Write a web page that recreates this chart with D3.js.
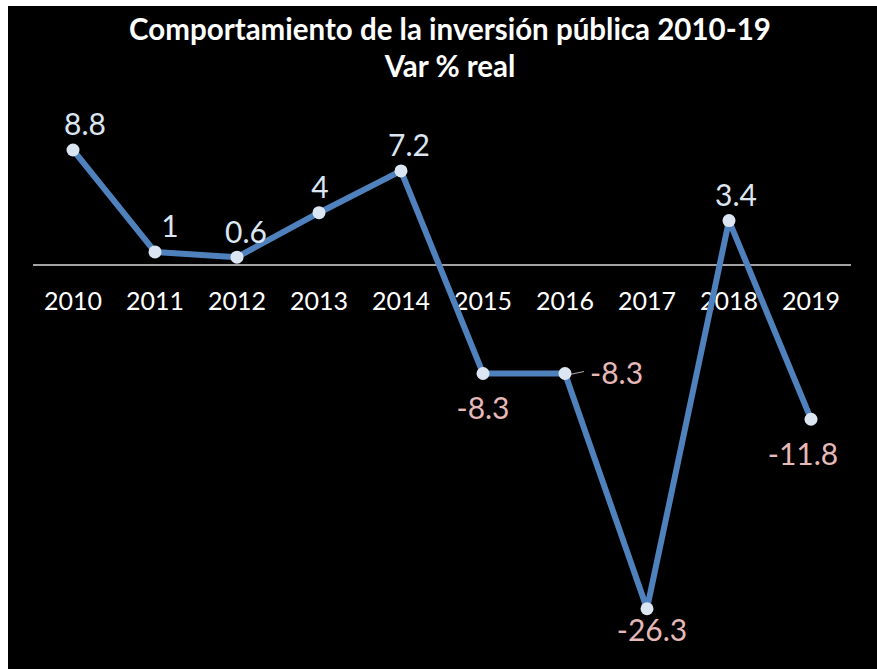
<!DOCTYPE html>
<html>
<head>
<meta charset="utf-8">
<style>
  html, body { margin: 0; padding: 0; background: #fff; }
  svg { display: block; }
</style>
</head>
<body>
<svg id="chart" width="877" height="669"></svg>
<script src="https://cdn.jsdelivr.net/npm/d3@7"></script>
<script>

var years = ["2010", "2011", "2012", "2013", "2014", "2015", "2016", "2017", "2018", "2019"];
var varReal = [8.8, 1, 0.6, 4, 7.2, -8.3, -8.3, -26.3, 3.4, -11.8];
var titleLines = ["Comportamiento de la inversión pública 2010-19", "Var % real"];

var svg = d3.select("#chart"),
    width = +svg.attr("width"),
    height = +svg.attr("height");

var font = "Lato, 'Open Sans', sans-serif";

// black panel with a thin white margin on the top and left
svg.append("rect")
    .attr("x", 8).attr("y", 6)
    .attr("width", width - 8).attr("height", height - 6)
    .attr("fill", "#000");

var x = d3.scaleBand()
    .domain(years)
    .range([32, 852]);

var y = d3.scaleLinear()
    .domain([-30, 10])
    .range([265 + 30 * 13.07, 265 - 10 * 13.07]);

// title
svg.append("g")
    .attr("font-family", font)
    .attr("font-weight", "bold")
    .attr("font-size", 29.5)
    .attr("fill", "#fff")
    .attr("text-anchor", "middle")
  .selectAll("text")
  .data(titleLines)
  .enter().append("text")
    .attr("x", 450)
    .attr("y", function(d, i) { return 40 + i * 37; })
    .text(function(d) { return d; });

// zero line
svg.append("line")
    .attr("x1", 33).attr("x2", 851)
    .attr("y1", y(0)).attr("y2", y(0))
    .attr("stroke", "#d9d9d9")
    .attr("stroke-width", 1.5);

// category labels under the zero line
var xAxis = svg.append("g")
    .attr("transform", "translate(0," + y(0) + ")")
    .call(d3.axisBottom(x).tickSize(0).tickPadding(27));
xAxis.select(".domain").remove();
xAxis.selectAll("text")
    .attr("fill", "#fff")
    .attr("font-family", font)
    .attr("font-size", 25);

var pts = years.map(function(d, i) { return { year: d, value: varReal[i], i: i }; });
var cx = function(d) { return x(d.year) + x.bandwidth() / 2; };

svg.append("path")
    .datum(pts)
    .attr("fill", "none")
    .attr("stroke", "#4f81bd")
    .attr("stroke-width", 6)
    .attr("stroke-linejoin", "round")
    .attr("d", d3.line().x(cx).y(function(d) { return y(d.value); }));

// repeated value gets its label pushed to the right with a leader line
function side(d) {
  if (d.i > 0 && varReal[d.i - 1] === d.value) return "right";
  return d.value >= 0 ? "above" : "below";
}

// small manual nudges, as the labels sit in the original
var nudgeX = { 0: 12, 1: 15, 2: 9, 3: 1, 4: 8, 7: 5, 8: 7, 9: -8 };
var nudgeY = { 7: -13 };

svg.selectAll("line.leader")
    .data(pts.filter(function(d) { return side(d) === "right"; }))
  .enter().append("line")
    .attr("class", "leader")
    .attr("x1", cx)
    .attr("y1", function(d) { return y(d.value) + 2; })
    .attr("x2", function(d) { return cx(d) + 19; })
    .attr("y2", function(d) { return y(d.value) - 2; })
    .attr("stroke", "#a6a6a6")
    .attr("stroke-width", 1.2);

svg.selectAll("circle.pt")
    .data(pts)
  .enter().append("circle")
    .attr("class", "pt")
    .attr("cx", cx)
    .attr("cy", function(d) { return y(d.value); })
    .attr("r", 6.5)
    .attr("fill", "#dce6f2");

svg.append("g")
    .attr("font-family", font)
    .attr("font-size", 30)
  .selectAll("text")
  .data(pts)
  .enter().append("text")
    .attr("x", function(d) {
      if (side(d) === "right") return cx(d) + 25;
      return cx(d) + (nudgeX[d.i] || 0);
    })
    .attr("y", function(d) {
      var s = side(d);
      if (s === "right") return y(d.value);
      return y(d.value) + (s === "above" ? -25 : 35) + (nudgeY[d.i] || 0);
    })
    .attr("dy", "0.35em")
    .attr("text-anchor", function(d) { return side(d) === "right" ? "start" : "middle"; })
    .attr("fill", function(d) { return d.value >= 0 ? "#dce6f2" : "#e6b9b8"; })
    .text(function(d) { return d.value; });

</script>
</body>
</html>
